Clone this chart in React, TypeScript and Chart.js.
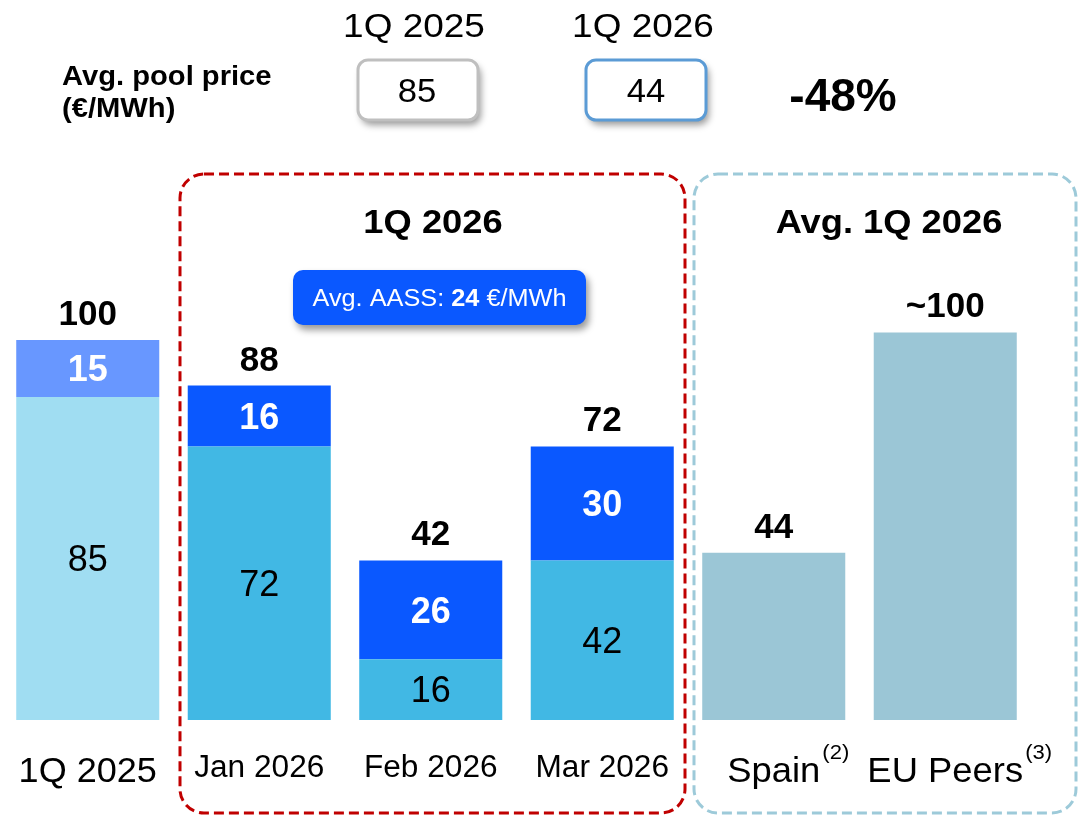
import React, { useEffect, useRef } from "react";
import { Chart, registerables } from "chart.js";

Chart.register(...registerables);

// ---------- data ----------
const categories = ["1Q 2025", "Jan 2026", "Feb 2026", "Mar 2026", "Spain", "EU Peers"];
const categorySuperscripts = ["", "", "", "", "(2)", "(3)"];
const poolValues = [85, 72, 16, 42, 44, 102];
const aassValues = [15, 16, 26, 30, 0, 0];
const totalLabels = ["100", "88", "42", "72", "44", "~100"];
const showSegmentLabels = [true, true, true, true, false, false];
const headerPeriods = ["1Q 2025", "1Q 2026"];
const headerPoolPrices = [85, 44];
const headerChange = "-48%";
const avgAass = 24;

// ---------- styles ----------
const FONT = '"Liberation Sans", Arial, Helvetica, sans-serif';
const poolColors = ["#A0DDF2", "#41B8E4", "#41B8E4", "#41B8E4", "#9BC6D6", "#9BC6D6"];
const aassColors = ["#6897FF", "#0A58FF", "#0A58FF", "#0A58FF", "#9BC6D6", "#9BC6D6"];

type TxtOpts = { bold?: boolean; color?: string; align?: "left" | "center" | "right"; sx?: number };

function txt(ctx: CanvasRenderingContext2D, s: string, x: number, y: number, size: number, o: TxtOpts = {}) {
  const sx = o.sx ?? 1;
  ctx.save();
  ctx.font = `${o.bold ? "bold " : ""}${size}px ${FONT}`;
  ctx.fillStyle = o.color ?? "#000";
  ctx.textBaseline = "alphabetic";
  ctx.textAlign = "left";
  const w = ctx.measureText(s).width * sx;
  const left = o.align === "center" ? x - w / 2 : o.align === "right" ? x - w : x;
  ctx.translate(left, y);
  ctx.scale(sx, 1);
  ctx.fillText(s, 0, 0);
  ctx.restore();
  return w;
}

function measure(ctx: CanvasRenderingContext2D, s: string, size: number, bold: boolean, sx = 1) {
  ctx.save();
  ctx.font = `${bold ? "bold " : ""}${size}px ${FONT}`;
  const w = ctx.measureText(s).width * sx;
  ctx.restore();
  return w;
}

function roundBox(
  ctx: CanvasRenderingContext2D,
  x: number, y: number, w: number, h: number, r: number,
  fill: string | null, stroke: string | null, lw: number, shadow: boolean
) {
  ctx.save();
  if (shadow) {
    ctx.shadowColor = "rgba(0,0,0,0.4)";
    ctx.shadowBlur = 7;
    ctx.shadowOffsetX = 3;
    ctx.shadowOffsetY = 5;
  }
  ctx.beginPath();
  ctx.roundRect(x, y, w, h, r);
  if (fill) {
    ctx.fillStyle = fill;
    ctx.fill();
  }
  if (stroke) {
    ctx.lineWidth = lw;
    ctx.strokeStyle = stroke;
    ctx.stroke();
  }
  ctx.restore();
}

function dashedBox(ctx: CanvasRenderingContext2D, x: number, y: number, w: number, h: number, r: number, color: string) {
  ctx.save();
  ctx.setLineDash([10, 5]);
  ctx.lineWidth = 3;
  ctx.strokeStyle = color;
  ctx.beginPath();
  ctx.roundRect(x, y, w, h, r);
  ctx.stroke();
  ctx.restore();
}

const overlayPlugin = {
  id: "overlay",
  afterDraw(chart: any) {
    const ctx: CanvasRenderingContext2D = chart.ctx;
    const xs = chart.scales.x;
    const ys = chart.scales.y;
    const m0 = chart.getDatasetMeta(0);
    const m1 = chart.getDatasetMeta(1);

    // group frames
    dashedBox(ctx, 180, 174, 505, 639, 24, "#C00000");
    dashedBox(ctx, 694, 174, 382, 639, 24, "#9DCAD9");

    // header
    txt(ctx, "Avg. pool price", 62, 85, 27, { bold: true, sx: 1.08 });
    txt(ctx, "(€/MWh)", 62, 117, 27, { bold: true, sx: 1.08 });
    const boxes = [
      { x: 358, cx: 417, stroke: "#BFBFBF" },
      { x: 586, cx: 646, stroke: "#5B9BD5" },
    ];
    headerPeriods.forEach((p, i) => {
      const b = boxes[i];
      txt(ctx, p, b.cx - 3, 37, 33, { align: "center", sx: 1.12 });
      roundBox(ctx, b.x, 60, 120, 60, 10, "#FFFFFF", null, 0, true);
      roundBox(ctx, b.x, 60, 120, 60, 10, null, b.stroke, 3, false);
      txt(ctx, String(headerPoolPrices[i]), b.cx, 102, 33, { align: "center", sx: 1.05 });
    });
    txt(ctx, headerChange, 843, 111, 46, { bold: true, align: "center" });

    // group titles
    txt(ctx, "1Q 2026", 433, 233, 33, { bold: true, align: "center", sx: 1.1 });
    txt(ctx, "Avg. 1Q 2026", 889, 233, 33, { bold: true, align: "center", sx: 1.1 });

    // AASS pill
    roundBox(ctx, 293, 270, 293, 55, 10, "#0A58FF", null, 0, true);
    const pSize = 23, pSx = 1.1;
    const parts = [
      { s: "Avg. AASS: ", b: false },
      { s: String(avgAass), b: true },
      { s: " €/MWh", b: false },
    ];
    const totalW = parts.reduce((a, p) => a + measure(ctx, p.s, pSize, p.b, pSx), 0);
    let px = 439.5 - totalW / 2;
    parts.forEach((p) => {
      px += txt(ctx, p.s, px, 306, pSize, { bold: p.b, color: "#FFFFFF", sx: pSx });
    });

    // bar labels
    categories.forEach((c, i) => {
      const x = xs.getPixelForValue(i);
      const b0 = m0.data[i];
      const b1 = m1.data[i];
      const segSize = 36;
      if (showSegmentLabels[i]) {
        const c0 = (b0.y + b0.base) / 2;
        txt(ctx, String(poolValues[i]), x, c0 + 0.358 * segSize, segSize, { align: "center" });
        const c1 = (b1.y + b1.base) / 2;
        txt(ctx, String(aassValues[i]), x, c1 + 0.358 * segSize, segSize, { bold: true, color: "#FFFFFF", align: "center" });
      }
      const topPx = ys.getPixelForValue(poolValues[i] + aassValues[i]);
      txt(ctx, totalLabels[i], x, topPx - 15, 35, { bold: true, align: "center" });

      // category labels
      if (i === 0) {
        txt(ctx, c, x, 782, 35, { align: "center", sx: 1.03 });
      } else if (i <= 3) {
        txt(ctx, c, x, 777, 31, { align: "center", sx: 1.02 });
      } else {
        const w = txt(ctx, c, x, 782, 35, { align: "center", sx: 1.04 });
        txt(ctx, categorySuperscripts[i], x + w / 2 + 2, 759, 21, { sx: 1.05 });
      }
    });
  },
};

export default function App() {
  const ref = useRef<HTMLCanvasElement>(null);
  useEffect(() => {
    if (!ref.current) return;
    const chart = new Chart(ref.current, {
      type: "bar",
      data: {
        labels: categories,
        datasets: [
          {
            label: "Pool price",
            data: poolValues,
            backgroundColor: poolColors,
            stack: "s",
            barPercentage: 0.834,
            categoryPercentage: 1,
            borderWidth: 0,
          },
          {
            label: "AASS",
            data: aassValues,
            backgroundColor: aassColors,
            stack: "s",
            barPercentage: 0.834,
            categoryPercentage: 1,
            borderWidth: 0,
          },
        ],
      },
      options: {
        animation: false,
        responsive: false,
        devicePixelRatio: 1,
        layout: { padding: { left: 2, right: 48, top: 150, bottom: 96 } },
        scales: {
          x: { display: false, stacked: true },
          y: { display: false, stacked: true, min: 0, max: 150 },
        },
        plugins: { legend: { display: false }, tooltip: { enabled: false } },
      },
      plugins: [overlayPlugin],
    });
    return () => chart.destroy();
  }, []);
  return (
    <div style={{ position: "fixed", left: 0, top: 0, width: 1079, height: 816, background: "#FFFFFF" }}>
      <canvas ref={ref} width={1079} height={816} style={{ display: "block" }} />
    </div>
  );
}
